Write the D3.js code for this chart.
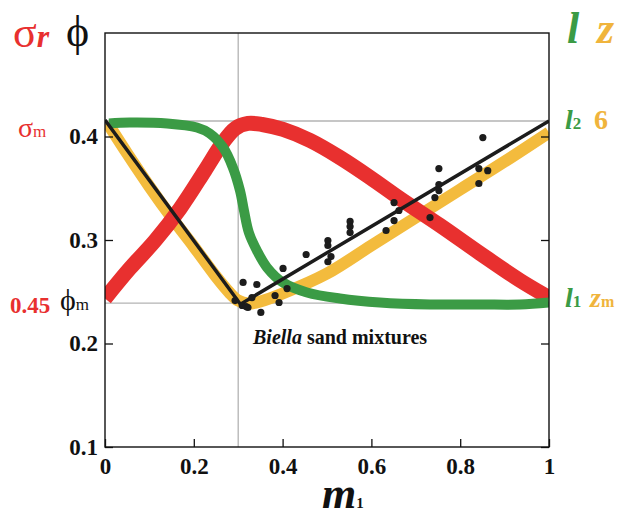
<!DOCTYPE html>
<html>
<head>
<meta charset="utf-8">
<script src="https://cdn.jsdelivr.net/npm/d3@7"></script>
<style>
  body { margin: 0; background: #fff; }
  svg text { font-family: "Liberation Serif", "DejaVu Serif", serif; }
</style>
</head>
<body>
<div id="chart"></div>
<script>
// data (m1 on x, phi scale on left y)
let redM = [0, 0.056, 0.113, 0.169, 0.225, 0.264, 0.293, 0.322, 0.354, 0.401, 0.462, 0.529, 0.597, 0.664, 0.755, 0.845, 0.935, 1]
let redV = [0.2435, 0.2725, 0.2995, 0.3304, 0.3671, 0.3932, 0.4077, 0.4126, 0.4116, 0.4068, 0.3961, 0.3797, 0.3604, 0.3401, 0.314, 0.287, 0.2609, 0.2444]

let greenM = [0.009, 0.056, 0.14, 0.207, 0.236, 0.266, 0.288, 0.304, 0.313, 0.324, 0.342, 0.365, 0.401, 0.455, 0.529, 0.619, 0.732, 0.845, 0.935, 1]
let greenV = [0.4126, 0.4135, 0.4126, 0.4087, 0.4029, 0.3894, 0.37, 0.3478, 0.3285, 0.3072, 0.2899, 0.2734, 0.2589, 0.2493, 0.2435, 0.2396, 0.2377, 0.2377, 0.2377, 0.2396]

let yellowM = [0.005, 0.05, 0.1, 0.15, 0.2, 0.25, 0.28, 0.3, 0.322, 0.35, 0.4, 0.5, 0.6, 0.7, 0.8, 0.9, 1]
let yellowV = [0.4135, 0.3836, 0.3517, 0.3217, 0.2937, 0.2647, 0.2493, 0.2415, 0.2386, 0.2406, 0.2483, 0.2676, 0.2947, 0.3217, 0.3488, 0.3758, 0.4039]

let blackM = [0, 0.305, 1]
let blackV = [0.416, 0.238, 0.415]

let dotM = [0.293, 0.311, 0.309, 0.318, 0.322, 0.331, 0.342, 0.351, 0.383, 0.392, 0.401, 0.41, 0.453,
            0.502, 0.502, 0.509, 0.502, 0.552, 0.552, 0.552, 0.633, 0.651, 0.662, 0.651,
            0.732, 0.743, 0.752, 0.752, 0.752, 0.842, 0.842, 0.862, 0.851]
let dotV = [0.2415, 0.259, 0.2367, 0.2357, 0.2348, 0.2444, 0.257, 0.23, 0.2464, 0.2396, 0.2725, 0.2531, 0.286,
            0.2995, 0.2947, 0.284, 0.279, 0.3179, 0.313, 0.3072, 0.3092, 0.3188, 0.3285, 0.3362,
            0.3217, 0.341, 0.3478, 0.3536, 0.369, 0.3546, 0.369, 0.367, 0.399]

let xTicks = [0, 0.2, 0.4, 0.6, 0.8, 1]
let yTicks = [0.1, 0.2, 0.3, 0.4]
let maxLine = 0.415   // sigma_m / l2 / 6
let minLine = 0.239   // phi_m / l1 / z_m
let minM = 0.3

// setup canvas
let width = 618
let height = 518
let pL = 105, pR = 549, pT = 33, pB = 447

let svg = d3.select("#chart").append("svg")
    .attr("width", width)
    .attr("height", height)

let x = d3.scaleLinear().domain([0, 1]).range([pL, pR])
let y = d3.scaleLinear().domain([0.1, 0.5]).range([pB, pT])

svg.append("clipPath").attr("id", "plot")
    .append("rect")
    .attr("x", pL).attr("y", pT)
    .attr("width", pR - pL).attr("height", pB - pT)

// gray reference lines
let ref = svg.append("g").attr("stroke", "#b3b3b3").attr("stroke-width", 1.3)
ref.append("line").attr("x1", pL).attr("x2", pR).attr("y1", y(maxLine)).attr("y2", y(maxLine))
ref.append("line").attr("x1", pL).attr("x2", pR).attr("y1", y(minLine)).attr("y2", y(minLine))
ref.append("line").attr("x1", x(minM)).attr("x2", x(minM)).attr("y1", pT).attr("y2", pB)

function pairs(ms, vs) {
    return ms.map((m, i) => [m, vs[i]])
}

let line = d3.line()
    .x(d => x(d[0]))
    .y(d => y(d[1]))
    .curve(d3.curveCatmullRom.alpha(0.5))

let curves = svg.append("g").attr("clip-path", "url(#plot)").attr("fill", "none")

curves.append("path")
    .attr("d", line(pairs(yellowM, yellowV)))
    .attr("stroke", "#f3bb3d")
    .attr("stroke-width", 12)

curves.append("path")
    .attr("d", line(pairs(redM, redV)))
    .attr("stroke", "#e8302f")
    .attr("stroke-width", 15)

curves.append("path")
    .attr("d", line(pairs(greenM, greenV)))
    .attr("stroke", "#3b9b45")
    .attr("stroke-width", 10)

curves.append("path")
    .attr("d", d3.line().x(d => x(d[0])).y(d => y(d[1]))(pairs(blackM, blackV)))
    .attr("stroke", "#1c1c1c")
    .attr("stroke-width", 3.5)

svg.append("g")
    .selectAll("circle")
    .data(pairs(dotM, dotV))
    .enter().append("circle")
    .attr("cx", d => x(d[0]))
    .attr("cy", d => y(d[1]))
    .attr("r", 3.6)
    .attr("fill", "#1c1c1c")

// axes (ticks point inward)
svg.append("g")
    .attr("transform", "translate(" + pL + ",0)")
    .call(d3.axisLeft(y).tickValues(yTicks).tickSize(-8).tickPadding(7).tickFormat(d3.format(".1f")))
svg.append("g")
    .attr("transform", "translate(0," + pB + ")")
    .call(d3.axisBottom(x).tickValues(xTicks).tickSize(-8).tickPadding(11).tickFormat(d => d === 0 || d === 1 ? d : d3.format(".1f")(d)))
svg.append("g")
    .attr("transform", "translate(" + pR + ",0)")
    .call(d3.axisRight(y).tickValues(yTicks).tickSize(-8).tickFormat(""))

svg.selectAll(".domain").remove()
svg.selectAll(".tick line").attr("stroke", "#111").attr("stroke-width", 1.3)
svg.selectAll(".tick text")
    .attr("fill", "#111")
    .attr("font-family", "Liberation Serif")
    .attr("font-weight", "bold")
    .attr("font-size", 23)

// frame
svg.append("rect")
    .attr("x", pL).attr("y", pT)
    .attr("width", pR - pL).attr("height", pB - pT)
    .attr("fill", "none")
    .attr("stroke", "#111")
    .attr("stroke-width", 1.4)

// labels
let red = "#e8302f", green = "#3b9b45", yellow = "#f0b43c"

let t = svg.append("text").attr("x", 13).attr("y", 47).attr("fill", red)
t.append("tspan").attr("font-size", 44).text("σ")
t.append("tspan").attr("font-size", 32).attr("font-style", "italic").attr("font-weight", "bold").text("r")

svg.append("text").attr("x", 66).attr("y", 46).attr("font-size", 44).attr("fill", "#111").text("ϕ")

svg.append("text").attr("x", 567).attr("y", 43).attr("font-size", 44)
    .attr("font-style", "italic").attr("font-weight", "bold").attr("fill", green).text("l")
svg.append("text").attr("x", 597).attr("y", 43).attr("font-size", 44)
    .attr("font-style", "italic").attr("font-weight", "bold").attr("fill", yellow).text("z")

t = svg.append("text").attr("x", 565).attr("y", 129).attr("fill", green).attr("font-weight", "bold")
t.append("tspan").attr("font-size", 28).attr("font-style", "italic").text("l")
t.append("tspan").attr("font-size", 17).text("2")
svg.append("text").attr("x", 594).attr("y", 129).attr("font-size", 28).attr("font-weight", "bold")
    .attr("fill", yellow).text("6")

t = svg.append("text").attr("x", 565).attr("y", 307).attr("fill", green).attr("font-weight", "bold")
t.append("tspan").attr("font-size", 28).attr("font-style", "italic").text("l")
t.append("tspan").attr("font-size", 17).text("1")
t = svg.append("text").attr("x", 590).attr("y", 307).attr("fill", yellow).attr("font-weight", "bold")
t.append("tspan").attr("font-size", 28).attr("font-style", "italic").text("z")
t.append("tspan").attr("font-size", 16).text("m")

t = svg.append("text").attr("x", 18).attr("y", 137).attr("fill", red)
t.append("tspan").attr("font-size", 28).text("σ")
t.append("tspan").attr("font-size", 17).text("m")

svg.append("text").attr("x", 10).attr("y", 313).attr("font-size", 23).attr("font-weight", "bold")
    .attr("fill", red).text("0.45")
t = svg.append("text").attr("x", 60).attr("y", 310).attr("fill", "#111")
t.append("tspan").attr("font-size", 30).text("ϕ")
t.append("tspan").attr("font-size", 17).text("m")

t = svg.append("text").attr("x", 253).attr("y", 344).attr("font-size", 20).attr("font-weight", "bold").attr("fill", "#111")
t.append("tspan").attr("font-style", "italic").text("Biella")
t.append("tspan").text(" sand mixtures")

t = svg.append("text").attr("x", 322).attr("y", 508).attr("fill", "#111").attr("font-weight", "bold")
t.append("tspan").attr("font-size", 44).attr("font-style", "italic").text("m")
t.append("tspan").attr("font-size", 15).text("1")
</script>
</body>
</html>
